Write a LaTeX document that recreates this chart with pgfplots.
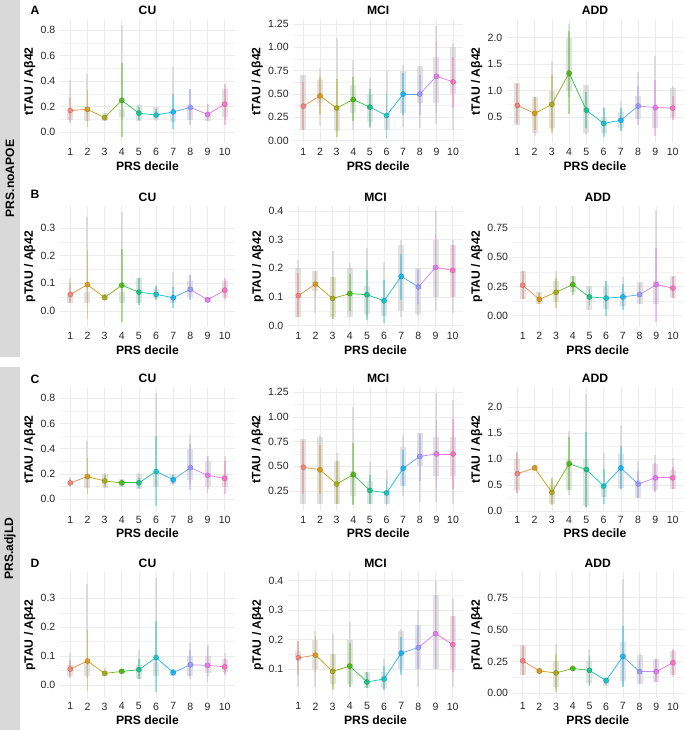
\documentclass[border=0pt]{standalone}
\usepackage{fontspec}
\setmainfont{Liberation Sans}
\usepackage{pgfplots}
\pgfplotsset{compat=1.18}
\usepackage{pgfplotstable}
\definecolor{vgrey}{RGB}{200,200,200}
\definecolor{stripgrey}{RGB}{217,217,217}
\pgfplotsset{
 panel/.style={scale only axis, anchor=south west, xmin=0.4, xmax=10.6, xtick={1,...,10},
  axis line style={draw=none}, major tick length=0pt, minor tick length=0pt,
  grid=both, minor y tick num=1,
  major grid style={draw=black!8, line width=0.5pt},
  minor grid style={draw=black!5, line width=0.3pt},
  xlabel={PRS decile},
  tick label style={font=\fontsize{7.9}{8}\selectfont, text=black!85},
  label style={font=\bfseries\fontsize{9.1}{10}\selectfont},
  title style={font=\bfseries\fontsize{9.1}{10}\selectfont, yshift=-6pt},
  xlabel style={yshift=2.5pt}, ylabel style={yshift=-3pt},
  /pgf/number format/assume math mode=true,
  colormap={hue}{rgb255=(248,118,109) rgb255=(216,144,0) rgb255=(163,165,0) rgb255=(57,182,0) rgb255=(0,191,125) rgb255=(0,191,196) rgb255=(0,176,246) rgb255=(149,144,255) rgb255=(231,107,243) rgb255=(255,98,188)},
  point meta min=1, point meta max=10,
 },
 pa/.style={yticklabel style={/pgf/number format/fixed, /pgf/number format/fixed zerofill, /pgf/number format/precision=1}},
 pb/.style={yticklabel style={/pgf/number format/fixed, /pgf/number format/fixed zerofill, /pgf/number format/precision=2}},
}
\newcommand\drawpanel[1]{%
 \addplot[quiver={u=0, v=\thisrow{bhi}-\thisrow{blo}}, draw=vgrey, line width=4.5pt, opacity=0.5] table[x=x, y=blo]{#1};
 \addplot[quiver={u=0, v=\thisrow{vhi}-\thisrow{vlo}}, draw=vgrey, line width=1.5pt, opacity=0.55] table[x=x, y=vlo]{#1};
 \addplot[quiver={u=0, v=\thisrow{ehi}-\thisrow{elo}, colored}, point meta=x, line width=1.4pt, opacity=0.4] table[x=x, y=elo]{#1};
 \addplot[mesh, point meta=x, line width=0.55pt, opacity=0.9] table[x=x, y=m]{#1};
 \addplot[scatter, only marks, point meta=x, mark=*, mark size=1.9pt, opacity=0.75] table[x=x, y=m]{#1};
}
% x m elo ehi vlo vhi blo bhi
\pgfplotstableread{
x m elo ehi vlo vhi blo bhi
1 0.17 0.07 0.27 0.10 0.41 0.10 0.15
2 0.18 0.04 0.33 0.09 0.46 0.09 0.20
3 0.115 0.10 0.13 0.09 0.15 0.09 0.15
4 0.25 -0.04 0.54 0.10 0.84 0.12 0.18
5 0.15 0.10 0.20 0.09 0.21 0.09 0.21
6 0.135 0.11 0.18 0.09 0.20 0.10 0.20
7 0.16 0.03 0.30 0.08 0.51 0.08 0.15
8 0.195 0.06 0.34 0.10 0.34 0.10 0.20
9 0.14 0.09 0.22 0.09 0.22 0.09 0.14
10 0.22 0.06 0.38 0.10 0.34 0.12 0.34
}\tAcu
\pgfplotstableread{
x m elo ehi vlo vhi blo bhi
1 0.37 0.11 0.63 0.11 0.70 0.11 0.70
2 0.48 0.29 0.68 0.17 0.78 0.40 0.65
3 0.35 0.04 0.66 0.10 1.10 0.10 0.35
4 0.44 0.21 0.68 0.11 0.86 0.30 0.60
5 0.36 0.15 0.55 0.14 0.68 0.20 0.50
6 0.27 0.03 0.50 0.11 0.75 0.11 0.25
7 0.50 0.28 0.72 0.15 0.81 0.30 0.75
8 0.50 0.28 0.70 0.14 0.80 0.40 0.80
9 0.69 0.30 1.07 0.18 1.23 0.40 0.90
10 0.63 0.35 0.90 0.12 1.05 0.50 1.00
}\tAmci
\pgfplotstableread{
x m elo ehi vlo vhi blo bhi
1 0.72 0.38 1.13 0.36 1.15 0.36 1.15
2 0.57 0.25 0.88 0.15 0.88 0.20 0.88
3 0.74 0.20 1.30 0.28 1.55 0.30 1.00
4 1.33 0.55 2.12 0.88 2.25 1.00 2.00
5 0.63 0.30 0.97 0.16 1.10 0.20 1.10
6 0.38 0.12 0.67 0.19 0.70 0.20 0.50
7 0.44 0.24 0.67 0.24 0.80 0.30 0.60
8 0.71 0.35 1.08 0.46 1.35 0.46 0.90
9 0.68 0.15 1.20 0.29 1.65 0.29 0.70
10 0.67 0.45 0.90 0.46 1.08 0.50 1.05
}\tAadd
\pgfplotstableread{
x m elo ehi vlo vhi blo bhi
1 0.06 0.03 0.10 0.03 0.12 0.03 0.06
2 0.095 -0.03 0.22 0.03 0.34 0.03 0.07
3 0.048 0.04 0.06 0.04 0.06 0.04 0.06
4 0.093 -0.04 0.225 0.03 0.36 0.03 0.07
5 0.068 0.02 0.12 0.03 0.12 0.03 0.12
6 0.06 0.04 0.09 0.04 0.095 0.045 0.08
7 0.048 0.01 0.085 0.03 0.14 0.03 0.05
8 0.078 0.04 0.13 0.04 0.13 0.05 0.11
9 0.04 0.035 0.045 0.03 0.05 0.03 0.05
10 0.075 0.045 0.12 0.04 0.11 0.05 0.11
}\tBcu
\pgfplotstableread{
x m elo ehi vlo vhi blo bhi
1 0.105 0.03 0.185 0.03 0.23 0.03 0.20
2 0.145 0.10 0.19 0.045 0.19 0.12 0.19
3 0.095 0.025 0.17 0.025 0.26 0.03 0.17
4 0.112 0.05 0.18 0.03 0.22 0.03 0.20
5 0.108 0.02 0.195 0.035 0.27 0.04 0.14
6 0.087 0.01 0.16 0.035 0.22 0.035 0.10
7 0.172 0.09 0.25 0.03 0.30 0.05 0.28
8 0.135 0.075 0.195 0.035 0.20 0.04 0.20
9 0.203 0.10 0.32 0.05 0.40 0.10 0.30
10 0.193 0.10 0.28 0.045 0.30 0.10 0.28
}\tBmci
\pgfplotstableread{
x m elo ehi vlo vhi blo bhi
1 0.26 0.14 0.38 0.14 0.38 0.14 0.38
2 0.14 0.10 0.19 0.10 0.20 0.10 0.20
3 0.20 0.07 0.32 0.12 0.38 0.12 0.30
4 0.265 0.18 0.34 0.20 0.34 0.20 0.34
5 0.16 0.09 0.23 0.05 0.25 0.05 0.25
6 0.15 0.00 0.30 0.06 0.30 0.06 0.25
7 0.16 0.05 0.27 0.08 0.33 0.08 0.20
8 0.18 0.10 0.27 0.10 0.29 0.10 0.29
9 0.265 -0.05 0.58 0.10 0.90 0.10 0.30
10 0.235 0.15 0.33 0.15 0.34 0.15 0.34
}\tBadd
\pgfplotstableread{
x m elo ehi vlo vhi blo bhi
1 0.13 0.10 0.16 0.11 0.18 0.11 0.14
2 0.18 0.04 0.33 0.09 0.46 0.09 0.20
3 0.145 0.10 0.19 0.09 0.21 0.09 0.20
4 0.13 0.11 0.15 0.10 0.16 0.10 0.16
5 0.13 0.09 0.17 0.08 0.21 0.08 0.20
6 0.22 -0.05 0.50 0.10 0.84 0.10 0.20
7 0.155 0.12 0.19 0.11 0.20 0.12 0.20
8 0.25 0.07 0.44 0.12 0.51 0.15 0.40
9 0.19 0.05 0.34 0.08 0.34 0.10 0.30
10 0.165 0.04 0.30 0.10 0.34 0.10 0.20
}\tCcu
\pgfplotstableread{
x m elo ehi vlo vhi blo bhi
1 0.49 0.22 0.76 0.12 0.78 0.12 0.78
2 0.465 0.22 0.72 0.12 0.82 0.12 0.80
3 0.32 0.12 0.55 0.12 0.63 0.12 0.55
4 0.415 0.11 0.74 0.12 1.10 0.20 0.45
5 0.255 0.12 0.41 0.12 0.54 0.12 0.35
6 0.23 0.11 0.37 0.12 0.46 0.12 0.25
7 0.48 0.30 0.67 0.20 0.82 0.30 0.70
8 0.60 0.35 0.83 0.14 0.84 0.50 0.84
9 0.625 0.28 0.97 0.14 1.24 0.40 0.80
10 0.625 0.27 0.98 0.12 1.17 0.40 0.80
}\tCmci
\pgfplotstableread{
x m elo ehi vlo vhi blo bhi
1 0.72 0.34 1.12 0.34 1.15 0.40 1.00
2 0.83 0.79 0.88 0.79 0.88 0.80 0.88
3 0.36 0.12 0.62 0.14 0.66 0.14 0.50
4 0.91 0.40 1.42 0.30 1.55 0.40 1.00
5 0.80 0.08 1.52 0.05 2.25 0.10 1.00
6 0.48 0.14 0.81 0.27 1.12 0.27 0.50
7 0.83 0.43 1.26 0.42 1.65 0.45 1.10
8 0.52 0.25 0.78 0.25 0.96 0.25 0.60
9 0.64 0.37 0.92 0.38 1.08 0.40 0.90
10 0.64 0.43 0.85 0.43 1.02 0.43 0.80
}\tCadd
\pgfplotstableread{
x m elo ehi vlo vhi blo bhi
1 0.055 0.025 0.085 0.03 0.11 0.03 0.07
2 0.083 -0.02 0.19 0.025 0.35 0.03 0.08
3 0.04 0.03 0.05 0.03 0.06 0.03 0.05
4 0.047 0.04 0.055 0.04 0.055 0.04 0.055
5 0.053 0.02 0.09 0.02 0.12 0.02 0.07
6 0.095 -0.025 0.22 0.03 0.37 0.03 0.08
7 0.043 0.035 0.055 0.03 0.055 0.03 0.05
8 0.07 0.03 0.12 0.02 0.145 0.03 0.10
9 0.068 0.01 0.13 0.03 0.14 0.04 0.10
10 0.063 0.035 0.09 0.04 0.11 0.045 0.09
}\tDcu
\pgfplotstableread{
x m elo ehi vlo vhi blo bhi
1 0.138 0.08 0.195 0.04 0.195 0.14 0.16
2 0.147 0.09 0.21 0.04 0.23 0.10 0.20
3 0.092 0.03 0.15 0.04 0.22 0.05 0.15
4 0.11 0.04 0.19 0.04 0.26 0.05 0.20
5 0.056 0.035 0.09 0.035 0.09 0.035 0.09
6 0.066 0.03 0.11 0.03 0.135 0.035 0.09
7 0.154 0.08 0.21 0.09 0.235 0.10 0.23
8 0.173 0.10 0.25 0.04 0.30 0.10 0.25
9 0.22 0.10 0.35 0.10 0.40 0.10 0.35
10 0.183 0.09 0.28 0.04 0.34 0.10 0.28
}\tDmci
\pgfplotstableread{
x m elo ehi vlo vhi blo bhi
1 0.255 0.14 0.37 0.14 0.38 0.14 0.38
2 0.175 0.16 0.19 0.15 0.20 0.15 0.20
3 0.16 0.01 0.31 0.03 0.39 0.05 0.25
4 0.195 0.185 0.21 0.18 0.21 0.18 0.21
5 0.18 0.06 0.29 0.06 0.35 0.08 0.25
6 0.10 0.07 0.12 0.06 0.12 0.06 0.12
7 0.29 0.05 0.53 0.06 0.90 0.10 0.40
8 0.17 0.07 0.27 0.07 0.32 0.07 0.30
9 0.17 0.09 0.27 0.09 0.27 0.09 0.27
10 0.24 0.14 0.34 0.13 0.35 0.14 0.33
}\tDadd
\begin{document}
\begin{tikzpicture}
\path[use as bounding box] (0,0) rectangle (513.75pt,-547.5pt);
\fill[stripgrey] (0,0) rectangle (15pt,-267.75pt);
\fill[stripgrey] (0,-275.25pt) rectangle (15pt,-547.5pt);
\node[rotate=90, font=\bfseries\fontsize{9.1}{10}\selectfont] at (7.5pt,-133.9pt) {PRS.noAPOE};
\node[rotate=90, font=\bfseries\fontsize{9.1}{10}\selectfont] at (7.5pt,-411.4pt) {PRS.adjLD};
\node[font=\bfseries\fontsize{9.1}{10}\selectfont] at (26.25pt,-7.5pt) {A};
\node[font=\bfseries\fontsize{9.1}{10}\selectfont] at (26.25pt,-145.5pt) {B};
\node[font=\bfseries\fontsize{9.1}{10}\selectfont] at (26.25pt,-284.25pt) {C};
\node[font=\bfseries\fontsize{9.1}{10}\selectfont] at (26.25pt,-422.25pt) {D};
% Row A
\begin{axis}[panel, pa, at={(45pt,-107.5pt)}, width=131.25pt, height=93pt, ymin=-0.086, ymax=0.884, ytick={0,0.2,0.4,0.6,0.8}, title=CU, ylabel={tTAU / Aβ42}]
\drawpanel{\tAcu}
\end{axis}
\begin{axis}[panel, pb, at={(220pt,-107.5pt)}, width=127.3pt, height=93pt, ymin=-0.028, ymax=1.30, ytick={0,0.25,0.5,0.75,1,1.25}, title=MCI, ylabel={tTAU / Aβ42}]
\drawpanel{\tAmci}
\end{axis}
\begin{axis}[panel, pa, at={(380.25pt,-107.5pt)}, width=132pt, height=93pt, ymin=0.005, ymax=2.345, ytick={0.5,1,1.5,2}, title=ADD, ylabel={tTAU / Aβ42}]
\drawpanel{\tAadd}
\end{axis}
% Row B
\begin{axis}[panel, pa, at={(45pt,-245.6pt)}, width=131.25pt, height=91.1pt, ymin=-0.06, ymax=0.38, ytick={0,0.1,0.2,0.3}, title=CU, ylabel={pTAU / Aβ42}]
\drawpanel{\tBcu}
\end{axis}
\begin{axis}[panel, pa, at={(216pt,-245.6pt)}, width=131.25pt, height=91.1pt, ymin=-0.006, ymax=0.417, ytick={0,0.1,0.2,0.3,0.4}, title=MCI, ylabel={pTAU / Aβ42}]
\drawpanel{\tBmci}
\end{axis}
\begin{axis}[panel, pb, at={(384.5pt,-245.6pt)}, width=127.7pt, height=91.1pt, ymin=-0.1, ymax=0.935, ytick={0,0.25,0.5,0.75}, title=ADD, ylabel={pTAU / Aβ42}]
\drawpanel{\tBadd}
\end{axis}
% Row C
\begin{axis}[panel, pa, at={(45pt,-383.4pt)}, width=131.25pt, height=92.7pt, ymin=-0.0945, ymax=0.8845, ytick={0,0.2,0.4,0.6,0.8}, title=CU, ylabel={tTAU / Aβ42}]
\drawpanel{\tCcu}
\end{axis}
\begin{axis}[panel, pb, at={(220pt,-383.4pt)}, width=127.3pt, height=92.7pt, ymin=0.045, ymax=1.297, ytick={0.25,0.5,0.75,1,1.25}, title=MCI, ylabel={tTAU / Aβ42}]
\drawpanel{\tCmci}
\end{axis}
\begin{axis}[panel, pa, at={(380.25pt,-383.4pt)}, width=132pt, height=92.7pt, ymin=-0.004, ymax=2.38, ytick={0,0.5,1,1.5,2}, title=ADD, ylabel={tTAU / Aβ42}]
\drawpanel{\tCadd}
\end{axis}
% Row D
\begin{axis}[panel, pa, at={(45pt,-523.5pt)}, width=131.25pt, height=94.3pt, ymin=-0.045, ymax=0.39, ytick={0,0.1,0.2,0.3}, title=CU, ylabel={pTAU / Aβ42}]
\drawpanel{\tDcu}
\end{axis}
\begin{axis}[panel, pa, at={(216pt,-523.5pt)}, width=131.25pt, height=94.3pt, ymin=0.0015, ymax=0.4285, ytick={0.1,0.2,0.3,0.4}, title=MCI, ylabel={pTAU / Aβ42}]
\drawpanel{\tDmci}
\end{axis}
\begin{axis}[panel, pb, at={(384.5pt,-523.5pt)}, width=127.7pt, height=94.3pt, ymin=-0.037, ymax=0.95, ytick={0,0.25,0.5,0.75}, title=ADD, ylabel={pTAU / Aβ42}]
\drawpanel{\tDadd}
\end{axis}
\end{tikzpicture}
\end{document}
